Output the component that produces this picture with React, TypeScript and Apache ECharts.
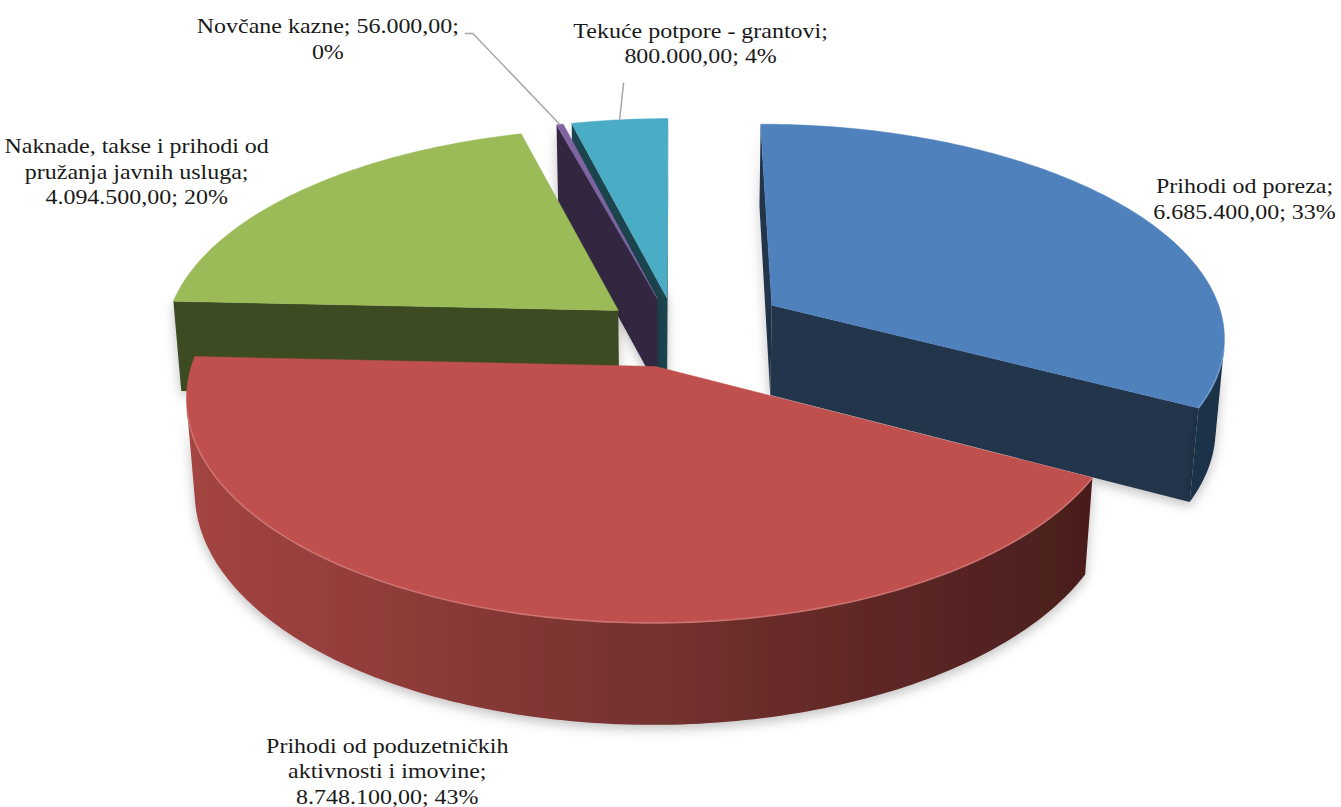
import React, { useEffect, useRef } from "react";
import * as echarts from "echarts";

// ---------- data ----------
const CATEGORIES = [
  "Prihodi od poreza",
  "Prihodi od poduzetničkih\naktivnosti i imovine",
  "Naknade, takse i prihodi od\npružanja javnih usluga",
  "Novčane kazne",
  "Tekuće potpore - grantovi",
];
const VALUES = [6685400.0, 8748100.0, 4094500.0, 56000.0, 800000.0];
const VALUE_ON_OWN_LINE = [true, true, true, false, true];

// ---------- style / layout ----------
const COLORS = ["#4f81bd", "#c0504d", "#9bbb59", "#8064a2", "#4bacc6"];
const EXPLODE = [0.25, 0.165, 0.165, 0.165, 0.165];
const LABEL_OFFSET = [
  [120, -8],
  [-124, 158],
  [-163, -20],
  [-232, -86],
  [81, -77],
];
const LEADER_FROM: (number[][] | null)[] = [
  null,
  null,
  null,
  [
    [137, -5],
    [145, -5],
  ],
  [[-77, 40]],
];
const VIEW = {
  cx: 676,
  cy: 332,
  tiltDeg: 27.8,
  dist: 6.6,
  focal: 3000,
  thickness: 0.23,
};
const LABEL_FONT = '22px "Liberation Serif", "Times New Roman", serif';

const TOTAL = VALUES.reduce((a, b) => a + b, 0);
const STARTS: number[] = [];
{
  let acc = 0;
  VALUES.forEach((v) => {
    STARTS.push((acc / TOTAL) * Math.PI * 2);
    acc += v;
  });
}

const sA = Math.sin((VIEW.tiltDeg * Math.PI) / 180);
const cA = Math.cos((VIEW.tiltDeg * Math.PI) / 180);
const CAM = [0, VIEW.dist * sA, -VIEW.dist * cA];

function proj(X: number, Y: number, Z: number) {
  const yp = Z * sA + Y * cA;
  const zp = Z * cA - Y * sA;
  const k = VIEW.focal / (VIEW.dist + zp);
  return [VIEW.cx + X * k, VIEW.cy - yp * k];
}

function fmt(v: number) {
  const [i, d] = v.toFixed(2).split(".");
  return i.replace(/\B(?=(\d{3})+(?!\d))/g, ".") + "," + d;
}

function hexToRgb(h: string) {
  const n = parseInt(h.slice(1), 16);
  return [(n >> 16) & 255, (n >> 8) & 255, n & 255];
}
function shade(h: string, f: number) {
  const [r, g, b] = hexToRgb(h);
  return `rgb(${Math.round(r * f)},${Math.round(g * f)},${Math.round(b * f)})`;
}
function tint(h: string, f: number) {
  const [r, g, b] = hexToRgb(h);
  return `rgb(${Math.round(r + (255 - r) * f)},${Math.round(g + (255 - g) * f)},${Math.round(
    b + (255 - b) * f
  )})`;
}

function sliceInfo(i: number, value: number) {
  const a0 = STARTS[i];
  const a1 = a0 + (value / TOTAL) * Math.PI * 2;
  const m = (a0 + a1) / 2;
  const e = EXPLODE[i];
  return { a0, a1, m, ox: e * Math.sin(m), oz: e * Math.cos(m) };
}

// depth ranks: farthest first
const RANK: number[] = (() => {
  const d = VALUES.map((v, i) => {
    const s = sliceInfo(i, v);
    const x = s.ox + 0.5 * Math.sin(s.m);
    const z = s.oz + 0.5 * Math.cos(s.m);
    return Math.hypot(x - CAM[0], 0 - CAM[1], z - CAM[2]);
  });
  const order = d.map((_, i) => i).sort((a, b) => d[b] - d[a]);
  const r: number[] = [];
  order.forEach((idx, k) => (r[idx] = k));
  return r;
})();

function renderItem(params: any, api: any) {
  const i = params.dataIndex;
  const value = api.value(0);
  const { a0, a1, m, ox, oz } = sliceInfo(i, value);
  const H = VIEW.thickness;
  const color = COLORS[i];
  const N = Math.max(2, Math.ceil((a1 - a0) / (Math.PI / 180)));
  const ts: number[] = [];
  for (let k = 0; k <= N; k++) ts.push(a0 + ((a1 - a0) * k) / N);
  const top = ts.map((t) => proj(ox + Math.sin(t), 0, oz + Math.cos(t)));
  const bot = ts.map((t) => proj(ox + Math.sin(t), -H, oz + Math.cos(t)));
  const apexT = proj(ox, 0, oz);
  const apexB = proj(ox, -H, oz);
  const base = RANK[i] * 10;
  const children: any[] = [];
  const shadow = {
    shadowBlur: 12,
    shadowColor: "rgba(0,0,0,0.25)",
    shadowOffsetX: 0,
    shadowOffsetY: 4,
  };

  // radial faces
  const vx = CAM[0] - ox;
  const vz = CAM[2] - oz;
  const n0 = [-Math.cos(a0), Math.sin(a0)];
  if (n0[0] * vx + n0[1] * vz > 0) {
    children.push({
      type: "polygon",
      z2: base + 1,
      shape: { points: [apexT, top[0], bot[0], apexB] },
      style: { fill: shade(color, 0.4), ...shadow },
    });
  }
  const n1 = [Math.cos(a1), -Math.sin(a1)];
  if (n1[0] * vx + n1[1] * vz > 0) {
    children.push({
      type: "polygon",
      z2: base + 1,
      shape: { points: [apexT, top[N], bot[N], apexB] },
      style: { fill: shade(color, 0.4), ...shadow },
    });
  }

  // outer curved side: visible runs
  const vis = ts.map(
    (t) => -ox * Math.sin(t) - oz * Math.cos(t) - VIEW.dist * cA * Math.cos(t) - 1 > 0
  );
  const runs: number[][] = [];
  let cur: number[] | null = null;
  vis.forEach((v, k) => {
    if (v) {
      if (!cur) {
        cur = [k, k];
        runs.push(cur);
      } else cur[1] = k;
    } else cur = null;
  });
  const grad = new echarts.graphic.LinearGradient(
    VIEW.cx - 500,
    0,
    VIEW.cx + 420,
    0,
    [
      { offset: 0, color: shade(color, 0.86) },
      { offset: 0.5, color: shade(color, 0.62) },
      { offset: 1, color: shade(color, 0.38) },
    ],
    true
  );
  runs.forEach(([s, e]) => {
    if (e <= s) return;
    const pts = top.slice(s, e + 1).concat(bot.slice(s, e + 1).reverse());
    children.push({
      type: "polygon",
      z2: base + 2,
      shape: { points: pts },
      style: { fill: grad, ...shadow },
    });
  });

  // top face
  children.push({
    type: "polygon",
    z2: base + 5,
    shape: { points: [apexT, ...top] },
    style: { fill: color, stroke: color, lineWidth: 0.5 },
  });
  // rim highlight on visible front edge
  runs.forEach(([s, e]) => {
    if (e <= s) return;
    children.push({
      type: "polyline",
      z2: base + 6,
      shape: { points: top.slice(s, e + 1) },
      style: { stroke: tint(color, 0.22), lineWidth: 1.6, fill: "none", opacity: 0.9 },
    });
  });

  // label
  const anchor = proj(ox + Math.sin(m), 0, oz + Math.cos(m));
  const lx = anchor[0] + LABEL_OFFSET[i][0];
  const ly = anchor[1] + LABEL_OFFSET[i][1];
  const pct = Math.round((value / TOTAL) * 100) + "%";
  const own = VALUE_ON_OWN_LINE[i];
  const text =
    CATEGORIES[i] + ";" + (own ? "\n" : " ") + fmt(value) + ";" + (own ? " " : "\n") + pct;
  children.push({
    type: "text",
    z2: 1000,
    x: lx,
    y: ly,
    scaleX: 1.09,
    style: {
      text,
      fill: "#1a1a1a",
      font: LABEL_FONT,
      lineHeight: 25.5,
      align: "center",
      verticalAlign: "middle",
    },
  });

  const lf = LEADER_FROM[i];
  if (lf) {
    const pts = lf.map((p) => [lx + p[0], ly + p[1]]).concat([anchor]);
    children.push({
      type: "polyline",
      z2: 999,
      shape: { points: pts },
      style: { stroke: "#a6a6a6", lineWidth: 1.5, fill: "none" },
    });
  }

  return { type: "group", children };
}

export default function App() {
  const ref = useRef<HTMLDivElement>(null);
  useEffect(() => {
    if (!ref.current) return;
    const chart = echarts.init(ref.current, undefined, { renderer: "svg" });
    chart.setOption({
      animation: false,
      backgroundColor: "#ffffff",
      series: [
        {
          type: "custom",
          coordinateSystem: "none",
          silent: true,
          renderItem,
          data: VALUES.map((v, i) => [v, i]),
        },
      ],
    });
    return () => chart.dispose();
  }, []);
  return (
    <div
      ref={ref}
      style={{ position: "absolute", left: 0, top: 0, width: 1341, height: 807 }}
    />
  );
}
